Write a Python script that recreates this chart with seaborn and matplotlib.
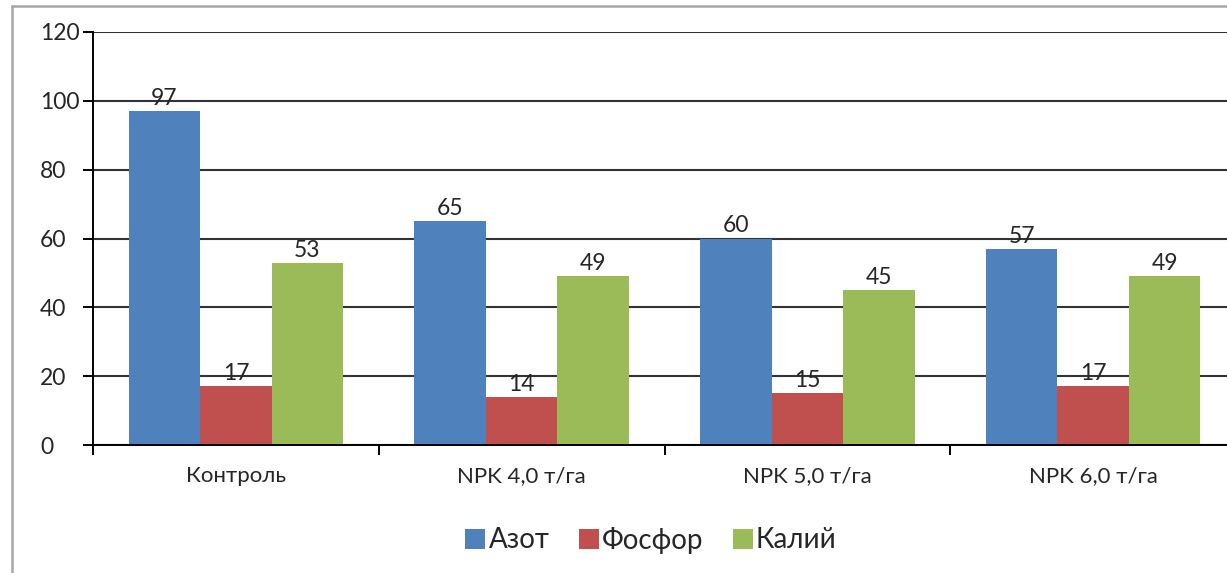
import matplotlib
matplotlib.use('Agg')
import matplotlib.pyplot as plt
import seaborn as sns
import pandas as pd
from matplotlib.lines import Line2D

categories = ['Контроль', 'NPK 4,0 т/га', 'NPK 5,0 т/га', 'NPK 6,0 т/га']
series = ['Азот', 'Фосфор', 'Калий']
azot = [97, 65, 60, 57]
fosfor = [17, 14, 15, 17]
kaliy = [53, 49, 45, 49]
colors = ['#4F81BD', '#C0504D', '#9BBB59']
yticks = [0, 20, 40, 60, 80, 100, 120]

df = pd.DataFrame({
    'Вариант': categories * 3,
    'Элемент': [s for s in series for _ in categories],
    'Значение': azot + fosfor + kaliy,
})

sns.set_theme(style='white')
plt.rcParams['font.family'] = ['Lato', 'DejaVu Sans']

W, H = 1227, 573
fig = plt.figure(figsize=(W / 100, H / 100), dpi=100)
ax = fig.add_axes([93 / W, 1 - 445 / H, (1236 - 93) / W, (445 - 32) / H])

sns.barplot(data=df, x='Вариант', y='Значение', hue='Элемент', palette=colors,
            width=0.75, saturation=1, linewidth=0, ax=ax, errorbar=None)

for c in ax.containers:
    ax.bar_label(c, padding=1.5, fontsize=16.5, color='#262626')

ax.set_xlim(-0.5, 3.5)
ax.set_ylim(0, 120)
ax.set_yticks(yticks)
ax.set_xlabel('')
ax.set_ylabel('')
ax.yaxis.grid(True, color='#333333', lw=1.5)
ax.set_axisbelow(True)

for s in ['top', 'right']:
    ax.spines[s].set_visible(False)
for s in ['left', 'bottom']:
    ax.spines[s].set_color('black')
    ax.spines[s].set_linewidth(1.4)

ax.tick_params(axis='y', length=7, width=1.4, color='black', direction='out',
               labelsize=16.5, labelcolor='#262626', pad=31, left=True)
for lab in ax.get_yticklabels():
    lab.set_ha('left')

ax.set_xticks(range(len(categories)))
ax.set_xticklabels(categories)
ax.set_xticks([i - 0.5 for i in range(len(categories) + 1)], minor=True)
ax.tick_params(axis='x', which='major', length=0, labelsize=16, labelcolor='#262626', pad=15)
ax.tick_params(axis='x', which='minor', length=7, width=1.4, color='black', direction='out', bottom=True)

handles, labels = ax.get_legend_handles_labels()
if ax.get_legend() is not None:
    ax.get_legend().remove()
fig.legend(handles, labels, loc='center', bbox_to_anchor=(651 / W, 1 - 540 / H),
           ncol=3, frameon=False, fontsize=20, handlelength=0.72, handleheight=0.72,
           handletextpad=0.12, columnspacing=1.05, labelcolor='#262626')

fig.add_artist(Line2D([12 / W, 12 / W], [0, 1 - 6 / H], color='#a6a6a6', lw=1.8,
                      transform=fig.transFigure))
fig.add_artist(Line2D([12 / W, 1], [1 - 6 / H, 1 - 6 / H], color='#a6a6a6', lw=1.8,
                      transform=fig.transFigure))

fig.savefig('out.png', dpi=100)
